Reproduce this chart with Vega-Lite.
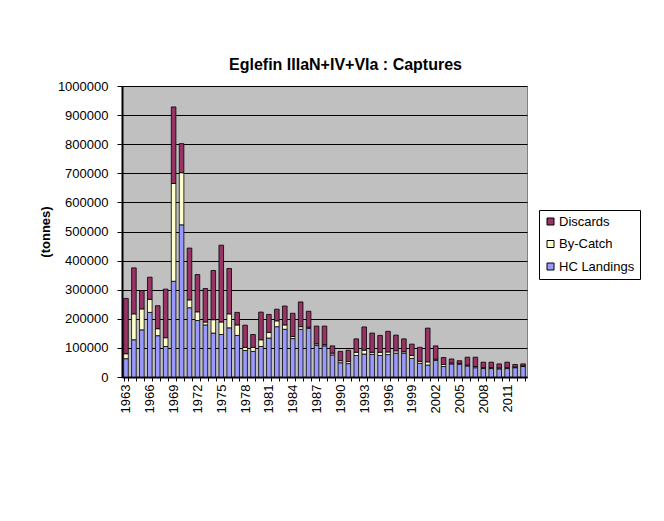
{
  "$schema": "https://vega.github.io/schema/vega-lite/v6.json",
  "width": 405,
  "height": 291,
  "autosize": {"type": "none"},
  "padding": {"left": 122, "top": 86, "right": 137, "bottom": 144},
  "background": "white",
  "title": {
    "text": "Eglefin IIIaN+IV+VIa : Captures",
    "font": "Liberation Sans",
    "fontSize": 16,
    "fontWeight": "bold",
    "color": "black",
    "anchor": "middle",
    "dx": 21,
    "offset": 7
  },
  "data": {
    "values": [
      {"year": 1963, "HC Landings": 63000, "By-Catch": 17000, "Discards": 190000},
      {"year": 1964, "HC Landings": 128000, "By-Catch": 89000, "Discards": 158000},
      {"year": 1965, "HC Landings": 162000, "By-Catch": 72000, "Discards": 63000},
      {"year": 1966, "HC Landings": 222000, "By-Catch": 45000, "Discards": 76000},
      {"year": 1967, "HC Landings": 142000, "By-Catch": 24000, "Discards": 79000},
      {"year": 1968, "HC Landings": 105000, "By-Catch": 30000, "Discards": 167000},
      {"year": 1969, "HC Landings": 329000, "By-Catch": 336000, "Discards": 263000},
      {"year": 1970, "HC Landings": 523000, "By-Catch": 179000, "Discards": 100000},
      {"year": 1971, "HC Landings": 238000, "By-Catch": 27000, "Discards": 178000},
      {"year": 1972, "HC Landings": 194000, "By-Catch": 30000, "Discards": 128000},
      {"year": 1973, "HC Landings": 179000, "By-Catch": 10000, "Discards": 115000},
      {"year": 1974, "HC Landings": 151000, "By-Catch": 46000, "Discards": 169000},
      {"year": 1975, "HC Landings": 146000, "By-Catch": 43000, "Discards": 264000},
      {"year": 1976, "HC Landings": 169000, "By-Catch": 48000, "Discards": 156000},
      {"year": 1977, "HC Landings": 143000, "By-Catch": 36000, "Discards": 43000},
      {"year": 1978, "HC Landings": 91000, "By-Catch": 11000, "Discards": 76000},
      {"year": 1979, "HC Landings": 88000, "By-Catch": 14000, "Discards": 44000},
      {"year": 1980, "HC Landings": 105000, "By-Catch": 23000, "Discards": 95000},
      {"year": 1981, "HC Landings": 134000, "By-Catch": 19000, "Discards": 62000},
      {"year": 1982, "HC Landings": 173000, "By-Catch": 20000, "Discards": 40000},
      {"year": 1983, "HC Landings": 164000, "By-Catch": 15000, "Discards": 65000},
      {"year": 1984, "HC Landings": 132000, "By-Catch": 7000, "Discards": 80000},
      {"year": 1985, "HC Landings": 164000, "By-Catch": 9000, "Discards": 85000},
      {"year": 1986, "HC Landings": 167000, "By-Catch": 4000, "Discards": 55000},
      {"year": 1987, "HC Landings": 109000, "By-Catch": 5000, "Discards": 61000},
      {"year": 1988, "HC Landings": 107000, "By-Catch": 4000, "Discards": 64000},
      {"year": 1989, "HC Landings": 76000, "By-Catch": 6000, "Discards": 25000},
      {"year": 1990, "HC Landings": 49000, "By-Catch": 7000, "Discards": 32000},
      {"year": 1991, "HC Landings": 46000, "By-Catch": 7000, "Discards": 39000},
      {"year": 1992, "HC Landings": 74000, "By-Catch": 11000, "Discards": 46000},
      {"year": 1993, "HC Landings": 79000, "By-Catch": 13000, "Discards": 80000},
      {"year": 1994, "HC Landings": 78000, "By-Catch": 7000, "Discards": 66000},
      {"year": 1995, "HC Landings": 74000, "By-Catch": 11000, "Discards": 58000},
      {"year": 1996, "HC Landings": 77000, "By-Catch": 9000, "Discards": 71000},
      {"year": 1997, "HC Landings": 82000, "By-Catch": 8000, "Discards": 54000},
      {"year": 1998, "HC Landings": 82000, "By-Catch": 5000, "Discards": 44000},
      {"year": 1999, "HC Landings": 64000, "By-Catch": 10000, "Discards": 39000},
      {"year": 2000, "HC Landings": 47000, "By-Catch": 7000, "Discards": 48000},
      {"year": 2001, "HC Landings": 41000, "By-Catch": 11000, "Discards": 116000},
      {"year": 2002, "HC Landings": 57000, "By-Catch": 4000, "Discards": 46000},
      {"year": 2003, "HC Landings": 36000, "By-Catch": 7000, "Discards": 24000},
      {"year": 2004, "HC Landings": 45000, "By-Catch": 3000, "Discards": 14000},
      {"year": 2005, "HC Landings": 44000, "By-Catch": 3000, "Discards": 9000},
      {"year": 2006, "HC Landings": 38000, "By-Catch": 3000, "Discards": 27000},
      {"year": 2007, "HC Landings": 32000, "By-Catch": 4000, "Discards": 32000},
      {"year": 2008, "HC Landings": 29000, "By-Catch": 3000, "Discards": 19000},
      {"year": 2009, "HC Landings": 29000, "By-Catch": 3000, "Discards": 19000},
      {"year": 2010, "HC Landings": 28000, "By-Catch": 3000, "Discards": 14000},
      {"year": 2011, "HC Landings": 29000, "By-Catch": 3000, "Discards": 19000},
      {"year": 2012, "HC Landings": 32000, "By-Catch": 2000, "Discards": 9000},
      {"year": 2013, "HC Landings": 36000, "By-Catch": 2000, "Discards": 7000}
    ]
  },
  "transform": [
    {"fold": ["HC Landings", "By-Catch", "Discards"], "as": ["type", "tonnes"]},
    {"calculate": "indexof(['HC Landings','By-Catch','Discards'], datum.type)", "as": "stackOrder"}
  ],
  "mark": {"type": "bar", "stroke": "black", "strokeWidth": 0.8},
  "encoding": {
    "x": {
      "field": "year",
      "type": "ordinal",
      "scale": {"paddingInner": 0.42, "paddingOuter": 0.21},
      "axis": {
        "title": null,
        "labelAngle": -90,
        "labelExpr": "(datum.value - 1963) % 3 == 0 ? datum.label : ''",
        "tickBand": "extent",
        "tickSize": 4,
        "tickColor": "black",
        "domainColor": "black",
        "domainWidth": 2,
        "labelPadding": 3,
        "labelFont": "Liberation Sans",
        "labelFontSize": 13,
        "labelColor": "black",
        "grid": false
      }
    },
    "y": {
      "field": "tonnes",
      "type": "quantitative",
      "stack": "zero",
      "scale": {"domain": [0, 1000000], "nice": false},
      "axis": {
        "title": "(tonnes)",
        "titleFont": "Liberation Sans",
        "titleFontSize": 13,
        "titleFontWeight": "bold",
        "titleColor": "black",
        "titlePadding": 5,
        "values": [0, 100000, 200000, 300000, 400000, 500000, 600000, 700000, 800000, 900000, 1000000],
        "format": "d",
        "labelFont": "Liberation Sans",
        "labelFontSize": 13,
        "labelColor": "black",
        "labelPadding": 9,
        "tickSize": 5,
        "tickColor": "black",
        "domainColor": "black",
        "domainWidth": 2,
        "grid": true,
        "gridColor": "black",
        "gridWidth": 1
      }
    },
    "color": {
      "field": "type",
      "type": "nominal",
      "scale": {
        "domain": ["Discards", "By-Catch", "HC Landings"],
        "range": ["#993366", "#FFFFCC", "#9999FF"]
      },
      "legend": {
        "title": null,
        "orient": "none",
        "legendX": 417,
        "legendY": 124,
        "symbolType": "square",
        "symbolSize": 49,
        "symbolStrokeColor": "black",
        "symbolStrokeWidth": 1,
        "labelFont": "Liberation Sans",
        "labelFontSize": 13,
        "labelColor": "black",
        "labelOffset": 2,
        "rowPadding": 8.5,
        "padding": 5,
        "strokeColor": "black",
        "fillColor": "white"
      }
    },
    "order": {"field": "stackOrder", "type": "quantitative", "sort": "ascending"}
  },
  "config": {
    "view": {"fill": "#C0C0C0", "stroke": "#808080", "strokeWidth": 1}
  }
}
